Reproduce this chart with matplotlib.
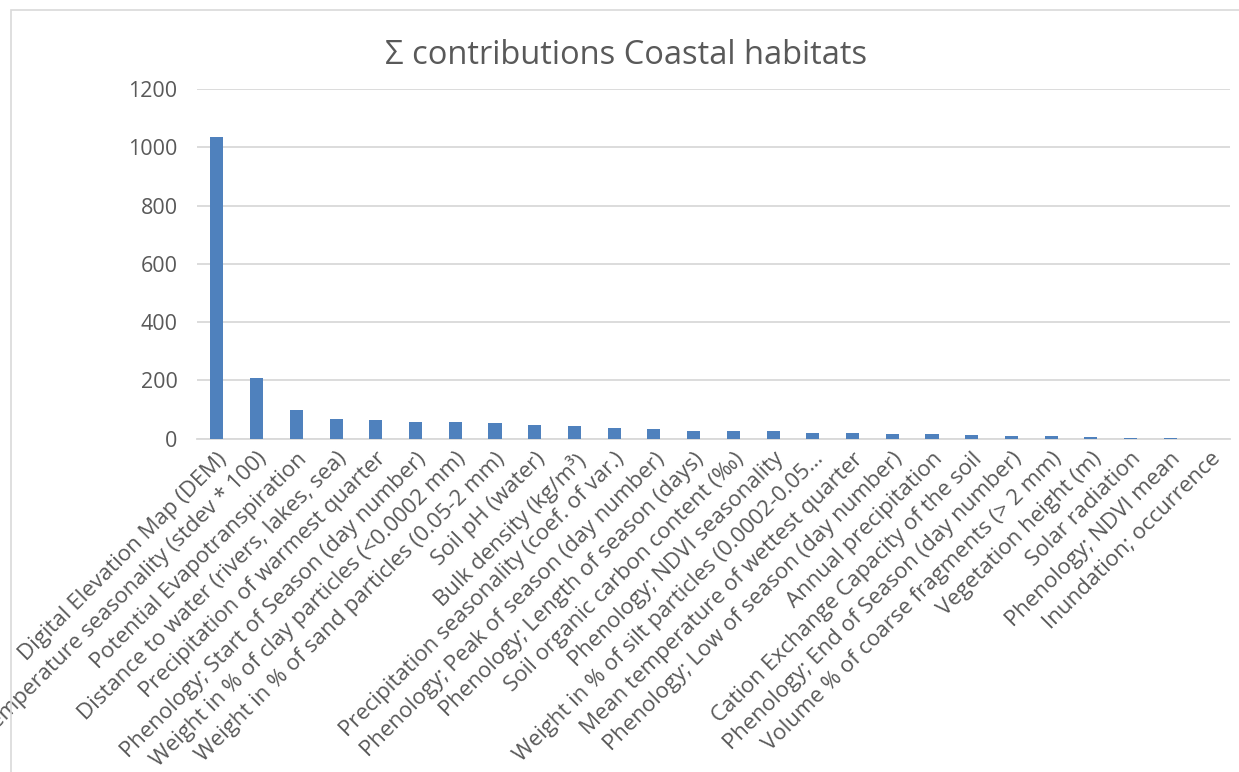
import matplotlib
matplotlib.use('Agg')
import matplotlib.pyplot as plt
import numpy as np
from matplotlib.patches import Rectangle

plt.rcParams['font.family'] = ['Open Sans', 'DejaVu Sans']

variables = [
    'Digital Elevation Map (DEM)',
    'Temperature seasonality (stdev * 100)',
    'Potential Evapotranspiration',
    'Distance to water (rivers, lakes, sea)',
    'Precipitation of warmest quarter',
    'Phenology; Start of Season (day number)',
    'Weight in % of clay particles (<0.0002 mm)',
    'Weight in % of sand particles (0.05-2 mm)',
    'Soil pH (water)',
    'Bulk density (kg/m³)',
    'Precipitation seasonality (coef. of var.)',
    'Phenology; Peak of season (day number)',
    'Phenology; Length of season (days)',
    'Soil organic carbon content (‰)',
    'Phenology; NDVI seasonality',
    'Weight in % of silt particles (0.0002-0.05…',
    'Mean temperature of wettest quarter',
    'Phenology; Low of season (day number)',
    'Annual precipitation',
    'Cation Exchange Capacity of the soil',
    'Phenology; End of Season (day number)',
    'Volume % of coarse fragments (> 2 mm)',
    'Vegetation height (m)',
    'Solar radiation',
    'Phenology; NDVI mean',
    'Inundation; occurrence',
]
contributions = [1036, 208, 99, 69, 63, 58, 56, 54, 48, 42, 38, 34, 26, 26, 25,
                 18, 18, 15, 15, 11, 9, 8, 7, 3, 2, 0.5]
yticks = [0, 200, 400, 600, 800, 1000, 1200]

text_col = '#595959'
grid_col = '#D9D9D9'

fig = plt.figure(figsize=(12.39, 7.72), dpi=100)
# chart frame
fig.patches.append(Rectangle((11 / 1239, -0.01), 1.0, 1 - 9.5 / 772 + 0.01,
                             transform=fig.transFigure, fill=False,
                             edgecolor=grid_col, linewidth=1.2))

ax = fig.add_axes([197 / 1239, 1 - 438.7 / 772, 1033 / 1239, 349.7 / 772])
x = np.arange(len(variables))
ax.bar(x, contributions, width=0.33, color='#4F81BD', zorder=3)

ax.set_xlim(-0.5, len(variables) - 0.5)
ax.set_ylim(0, 1200)
ax.set_yticks(yticks)
ax.set_yticklabels([str(v) for v in yticks], fontsize=15.5, color=text_col)
ax.yaxis.grid(True, color=grid_col, linewidth=1.3, zorder=0)
ax.set_xticks(x)
ax.set_xticklabels(variables, rotation=45, ha='right', rotation_mode='anchor',
                   fontsize=16, color=text_col)
ax.tick_params(axis='both', length=0)
ax.tick_params(axis='y', pad=14)
ax.tick_params(axis='x', pad=7)
for s in ['top', 'right', 'left']:
    ax.spines[s].set_visible(False)
ax.spines['bottom'].set_color(grid_col)
ax.spines['bottom'].set_linewidth(1.3)

fig.text(626 / 1239, 1 - 55 / 772, 'Σ contributions Coastal habitats',
         ha='center', va='center', fontsize=23.5, color=text_col)

fig.savefig('out.png', dpi=100)
